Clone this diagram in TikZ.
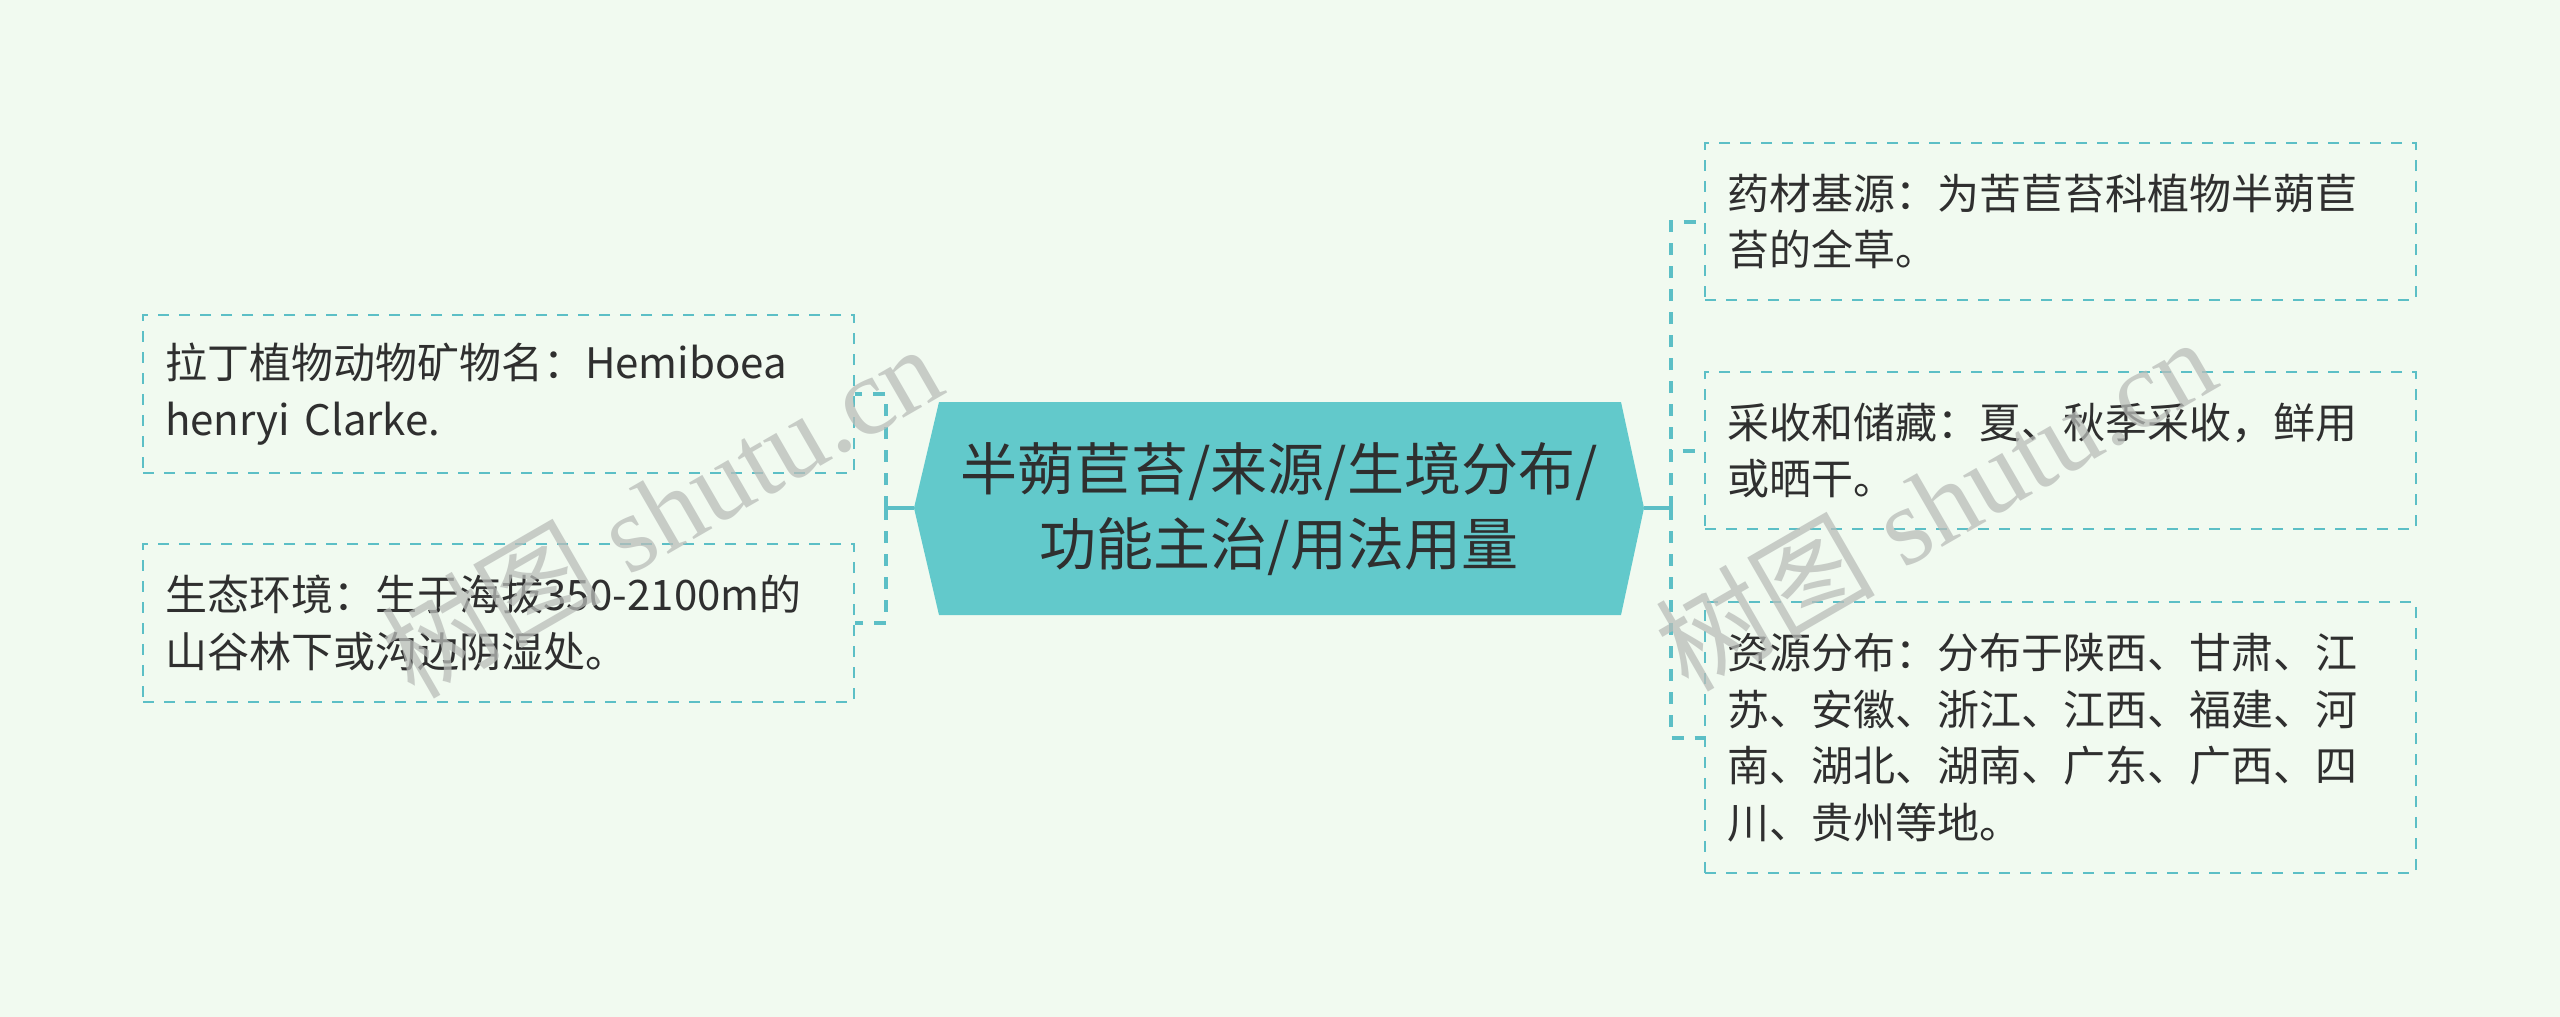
\documentclass[tikz,border=0pt]{standalone}
\usepackage{fontspec}
\setmainfont{Noto Sans CJK SC}
\newfontfamily\wmserif{Liberation Serif}
\newfontfamily\wmcjk{Noto Sans CJK SC}
\definecolor{bg}{HTML}{F1FAF0}
\definecolor{hexfill}{HTML}{62C9CB}
\definecolor{linec}{HTML}{5CBFC6}
\definecolor{txt}{HTML}{2F2F2F}
\definecolor{wm}{HTML}{B9BDB9}
\tikzset{
  leaf/.style={draw=linec, line width=2.6pt, dash pattern=on 11pt off 10pt,
    text width=667pt, inner xsep=22pt, inner ysep=0pt, minimum width=711pt,
    align=left, text=txt, font=\fontsize{42}{56.5}\selectfont, anchor=center},
  connsolid/.style={draw=linec, line width=4pt},
  conndash/.style={draw=linec, line width=4pt, dash pattern=on 12pt off 11pt},
  watermark/.style={text=wm, opacity=0.75, rotate=30, font=\fontsize{110}{110}\selectfont}
}
\begin{document}
\begin{tikzpicture}[x=1pt,y=-1pt]
\useasboundingbox[fill=bg] (0,0) rectangle (2560,1017);

% central hexagon
\coordinate (hl) at (914,508);
\coordinate (hr) at (1644,508);
\fill[hexfill] (hl) -- (939,402) -- (1621,402) -- (hr) -- (1621,615) -- (939,615) -- cycle;
\node[text=txt, align=center, font=\fontsize{57}{75}\selectfont] (main) at (1279,509)
  {半蒴苣苔/来源/生境分布/\\功能主治/用法用量};

% left leaves
\node[leaf, minimum height=158pt] (l1) at (498.5,394) {拉丁植物动物矿物名：Hemiboea\\henryi Clarke.};
\node[leaf, minimum height=158pt] (l2) at (498.5,623) {生态环境：生于海拔350-2100m的\\山谷林下或沟边阴湿处。};

% right leaves
\node[leaf, minimum height=157pt] (r1) at (2060.5,221.5) {药材基源：为苦苣苔科植物半蒴苣\\苔的全草。};
\node[leaf, minimum height=157pt] (r2) at (2060.5,450.5) {采收和储藏：夏、秋季采收，鲜用\\或晒干。};
\node[leaf, minimum height=271pt] (r3) at (2060.5,737.5) {资源分布：分布于陕西、甘肃、江\\苏、安徽、浙江、江西、福建、河\\南、湖北、湖南、广东、广西、四\\川、贵州等地。};

% connectors
\coordinate (jl) at (886,508);
\coordinate (jr) at (1671,508);
\draw[connsolid] (hl) -- (jl);
\draw[connsolid] (hr) -- (jr);
\draw[conndash] (jl) |- (l1.east);
\draw[conndash] (jl) |- (l2.east);
\draw[conndash] (jr) |- (r1.west);
\draw[conndash] (jr) |- (r2.west);
\draw[conndash] (jr) |- (r3.west);

% watermarks
\node[watermark] (wm1) at (661,510) {\wmcjk 树图\wmserif\ shutu.cn};
\node[watermark] (wm2) at (1935,503) {\wmcjk 树图\wmserif\ shutu.cn};
\end{tikzpicture}
\end{document}
